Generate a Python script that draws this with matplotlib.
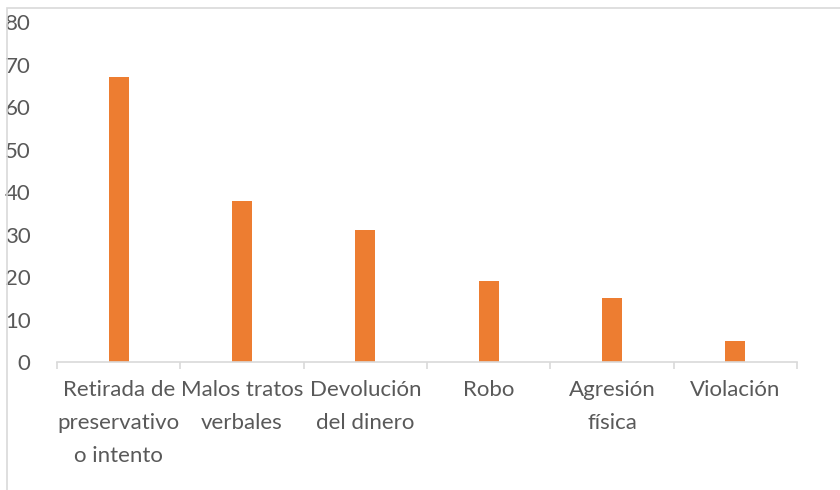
import matplotlib
matplotlib.use("Agg")
import matplotlib.pyplot as plt
from matplotlib.patches import Rectangle

categories = [
    "Retirada de\npreservativo\no intento",
    "Malos tratos\nverbales",
    "Devolución\ndel dinero",
    "Robo",
    "Agresión\nfísica",
    "Violación",
]
values = [67, 38, 31, 19, 15, 5]
yticks = [0, 10, 20, 30, 40, 50, 60, 70, 80]

W, H = 840, 490
plt.rcParams["font.family"] = ["Lato", "DejaVu Sans"]
fig = plt.figure(figsize=(W / 100, H / 100), dpi=100)

# chart border (cropped Excel chart area)
fig.patches.append(Rectangle((7 / W, -0.1), 1.2, 1 - 8 / H + 0.1,
                             transform=fig.transFigure, fill=False,
                             edgecolor="#d9d9d9", linewidth=1.2))

ax = fig.add_axes([57 / W, 1 - 362 / H, (797 - 57) / W, (362 - 22) / H])
x = list(range(len(categories)))
ax.bar(x, values, width=0.16, color="#ed7d31")

ax.set_xlim(-0.5, len(categories) - 0.5)
ax.set_ylim(0, 80)
ax.set_yticks(yticks)
ax.set_yticklabels([str(v) for v in yticks])
ax.set_xticks(x)
ax.set_xticklabels(categories, linespacing=1.8)
ax.set_xticks([i - 0.5 for i in range(len(categories) + 1)], minor=True)

for s in ("top", "right", "left"):
    ax.spines[s].set_visible(False)
ax.spines["bottom"].set_color("#d9d9d9")
ax.spines["bottom"].set_linewidth(1.2)

ax.tick_params(axis="x", which="major", length=0, pad=13,
               labelsize=16, labelcolor="#595959")
ax.tick_params(axis="x", which="minor", length=5, width=1.2,
               color="#d9d9d9", direction="out")
ax.tick_params(axis="y", length=0, pad=19, labelsize=16, labelcolor="#595959")

fig.savefig("out.png", dpi=100)
